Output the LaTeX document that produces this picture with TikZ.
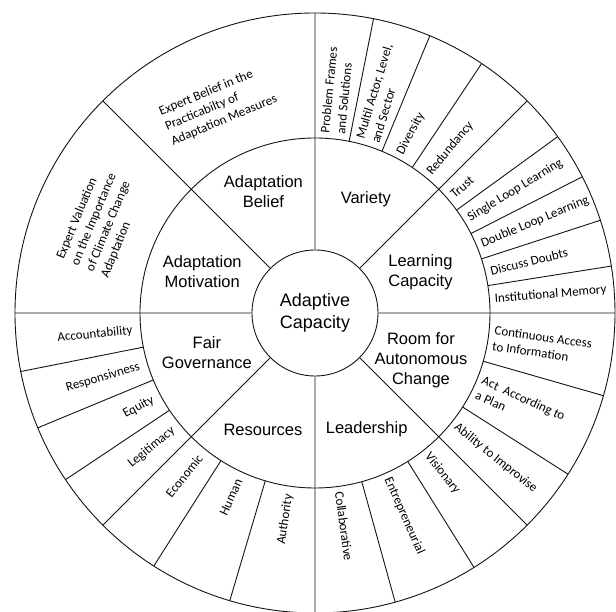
\documentclass[tikz,border=0pt]{standalone}
\usepackage{fontspec}
\setmainfont{Carlito}
\newfontfamily\ringfont{Liberation Sans}
\usepackage{xcolor}
\usepackage{tikz}
\usetikzlibrary{positioning}
\definecolor{wheel@ink}{RGB}{20,20,20}
\tikzset{
  wheel/.style={
    x=1pt, y=1pt,
    line width=0.9pt,
    draw=wheel@ink
  },
  hub/.style={                     % centre of the wheel
    circle, draw=wheel@ink, line width=0.9pt,
    minimum size=126pt, inner sep=0pt,
    fill=white, align=center,
    font=\ringfont\fontsize{18}{21.5}\selectfont
  },
  dimlabel/.style={                % middle ring, one per dimension
    align=center, inner sep=0pt,
    font=\ringfont\fontsize{16.5}{20}\selectfont
  },
  itemout/.style={                 % outer ring, reading outwards
    anchor=west, align=left, inner sep=0pt,
    font=\fontsize{13}{16}\selectfont
  },
  itemin/.style={                  % outer ring, reading inwards
    anchor=east, align=right, inner sep=0pt,
    font=\fontsize{13}{16}\selectfont
  },
  itemflat/.style={                % outer ring, set along the ring
    align=left, inner sep=0pt,
    font=\fontsize{13}{16}\selectfont
  }
}

\begin{document}
\begin{tikzpicture}[wheel]
\useasboundingbox (-315,-299) rectangle (301,313);

% Rings
\draw (0,0) circle[radius=300pt];
\draw (0,0) circle[radius=175pt];
\node[hub] (hub) at (0,0) {Adaptive\\Capacity};

% Eight spokes between the dimensions
\draw (hub.0) -- (0:300pt)   (hub.45) -- (45:300pt)
      (hub.90) -- (90:300pt) (hub.135) -- (135:300pt)
      (hub.180) -- (180:300pt) (hub.225) -- (225:300pt)
      (hub.270) -- (270:300pt) (hub.315) -- (315:300pt);

% Dividers in the outer ring
\draw (78.75:175pt) -- (78.75:300pt) (67.5:175pt) -- (67.5:300pt)
      (56.25:175pt) -- (56.25:300pt);
\draw (36:175pt) -- (36:300pt) (27:175pt) -- (27:300pt)
      (18:175pt) -- (18:300pt) (9:175pt) -- (9:300pt);
\draw (-16:175pt) -- (-16:300pt) (-32.5:175pt) -- (-32.5:300pt);
\draw (-58:175pt) -- (-58:300pt) (-74.5:175pt) -- (-74.5:300pt);
\draw (-106.5:175pt) -- (-106.5:300pt) (-122.5:175pt) -- (-122.5:300pt);
\draw (-146.25:175pt) -- (-146.25:300pt) (-157.5:175pt) -- (-157.5:300pt)
      (-168.75:175pt) -- (-168.75:300pt);

% Dimensions
\node[dimlabel] (belief)     at (113:132pt)  {Adaptation\\Belief};
\node[dimlabel] (variety)    at (66:125pt)   {Variety};
\node[dimlabel] (learning)   at (21:113pt)   {Learning\\Capacity};
\node[dimlabel] (room)       at (-24:116pt)  {Room for\\Autonomous\\Change};
\node[dimlabel] (leadership) at (-66:127pt)  {Leadership};
\node[dimlabel] (resources)  at (-114:128pt) {Resources};
\node[dimlabel] (fairgov)    at (-160:115pt) {Fair\\Governance};
\node[dimlabel] (motivation) at (160:120pt)  {Adaptation\\Motivation};

% Adaptation belief and motivation
\node[itemflat, rotate=22.5] (practicab) at (115:229pt)
  {Expert Belief in the\\Practicabilty of\\Adaptation Measures};
\node[itemflat, rotate=67.5] (valuation) at (157:232pt)
  {Expert Valuation\\on the Importance\\of Climate Change\\Adaptation};

% Variety
\node[itemout, rotate=84.4] (frames)    at (84.4:180pt) {Problem Frames\\and Solutions};
\node[itemout, rotate=73.1] (multiactor) at (73.1:180pt) {Multil Actor, Level,\\and Sector};
\node[itemout, rotate=61.9] (diversity) at (61.9:180pt) {Diversity};
\node[itemout, rotate=50.6] (redundancy) at (50.6:180pt) {Redundancy};

% Learning capacity
\node[itemout, rotate=40.5] (trust)    at (40.5:180pt) {Trust};
\node[itemout, rotate=31.5] (single)   at (31.5:180pt) {Single Loop Learning};
\node[itemout, rotate=22.5] (double)   at (22.5:180pt) {Double Loop Learning};
\node[itemout, rotate=13.5] (doubts)   at (13.5:180pt) {Discuss Doubts};
\node[itemout, rotate=4.5]  (memory)   at (4.5:180pt)  {Institutional Memory};

% Room for autonomous change
\node[itemout, rotate=-8]     (access)  at (-8:180pt)     {Continuous Access\\to Information};
\node[itemout, rotate=-24.25] (plan)    at (-24.25:180pt) {Act\ \ According to\\a Plan};
\node[itemout, rotate=-38.75] (improv)  at (-38.75:180pt) {Ability to Improvise};

% Leadership
\node[itemout, rotate=-51.5]  (visionary) at (-51.5:180pt)  {Visionary};
\node[itemout, rotate=-66.25] (entrepr)   at (-66.25:180pt) {Entrepreneurial};
\node[itemout, rotate=-82.25] (collab)    at (-82.25:180pt) {Collaborative};

% Resources
\node[itemin, rotate=81.75] (authority) at (-98.25:183pt) {Authority};
\node[itemin, rotate=65.5]  (human)     at (-114.5:183pt) {Human};
\node[itemin, rotate=51.25] (economic)  at (-128.75:183pt) {Economic};

% Fair governance
\node[itemin, rotate=39.4] (legitimacy) at (-140.6:183pt) {Legitimacy};
\node[itemin, rotate=28.1] (equity)     at (-151.9:183pt) {Equity};
\node[itemin, rotate=16.9] (respons)    at (-163.1:183pt) {Responsivness};
\node[itemin, rotate=5.6]  (account)    at (-174.4:183pt) {Accountability};

\end{tikzpicture}
\end{document}
